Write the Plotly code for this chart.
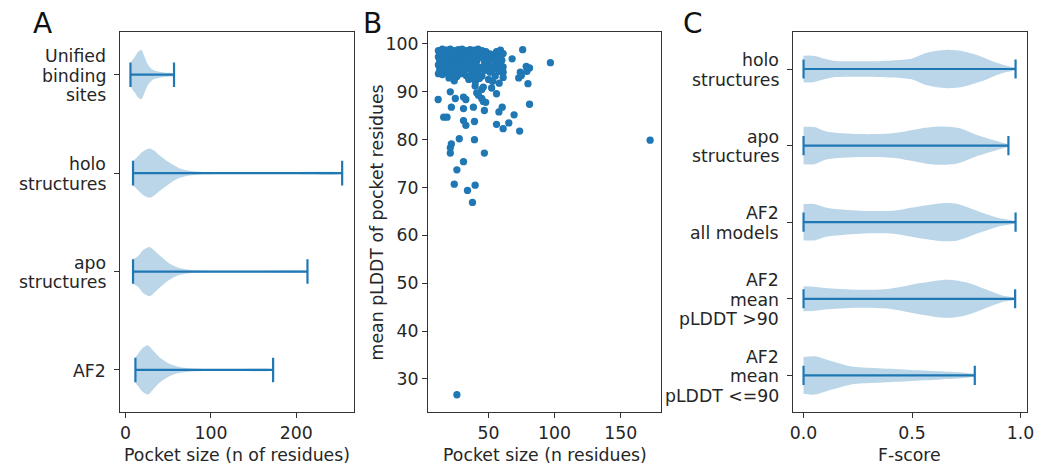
import plotly.graph_objects as go

# ---------------- Panel A: pocket size distributions ----------------
size_labels = [["Unified", "binding", "sites"], ["holo", "structures"],
               ["apo", "structures"], ["AF2"]]
size_min = [5.8, 8.8, 8.8, 11.6]
size_max = [56.8, 253.6, 213.0, 172.8]
# density profiles (x in residues, relative half-width)
unified_x = [5.8, 8.0, 10.8, 14.6, 18.5, 22.4, 26.2, 32.0, 39.8, 47.5, 56.8]
unified_d = [0.45, 0.6, 0.72, 0.92, 1.0, 0.72, 0.42, 0.2, 0.12, 0.08, 0.05]
holo_size_x = [8.8, 12.7, 20.4, 28.2, 34.0, 39.8, 51.4, 63.0, 74.6, 86.0, 110.0, 160.0, 253.6]
holo_size_d = [0.5, 0.62, 0.88, 1.0, 0.9, 0.73, 0.43, 0.2, 0.1, 0.06, 0.04, 0.03, 0.02]
apo_size_x = [8.8, 14.6, 20.4, 28.2, 34.0, 39.8, 51.4, 63.0, 74.6, 90.0, 140.0, 213.0]
apo_size_d = [0.5, 0.62, 0.87, 1.0, 0.85, 0.66, 0.33, 0.14, 0.07, 0.04, 0.03, 0.02]
af2_size_x = [11.6, 14.6, 20.4, 26.2, 32.0, 39.8, 51.4, 63.0, 74.6, 90.0, 120.0, 172.8]
af2_size_d = [0.52, 0.65, 0.9, 1.0, 0.8, 0.52, 0.25, 0.12, 0.07, 0.04, 0.03, 0.02]

# ---------------- Panel B: pocket size vs mean pLDDT ----------------
pocket_size = [
    12, 15, 18, 21, 24, 27, 30, 33, 36, 39, 42, 45, 48, 56, 59,
    13, 16, 19, 22, 25, 28, 31, 34, 37, 40, 43, 46, 51, 54, 58, 61,
    12, 15, 18, 21, 24, 27, 30, 33, 36, 39, 44, 49, 53, 57, 60,
    13, 16, 19, 22, 25, 28, 31, 35, 38, 41, 47, 50, 55, 59,
    12, 15, 18, 21, 24, 27, 30, 33, 36, 40, 44, 48, 52, 56, 61,
    13, 17, 20, 23, 27, 31, 35, 38, 42, 47, 51, 54, 58, 61,
    12, 15, 19, 23, 26, 29, 33, 37, 40, 45, 50, 55, 61,
    20, 24, 35, 40, 53, 58, 43,
    11.8, 21, 24.8, 31, 32.8, 21.8, 31, 38.5, 16, 18.5, 31, 32.8, 39.3, 46.8,
    56, 61, 65.3, 69.3, 73.5, 81, 57.8, 60.3, 56, 52.3, 79.8, 72.8, 74.8, 79,
    78.5, 81, 75.8, 67.8, 96.8, 172.3, 26, 39.8, 41, 42.3, 44.8, 46, 47.8, 44.8,
    46, 27.8, 39.3, 21.8, 21, 21, 46.8, 31, 26, 24, 39.8, 34, 37.8, 74, 60.5,
]
mean_plddt = [
    98.6, 98.9, 98.7, 98.9, 98.6, 98.8, 98.9, 98.6, 98.8, 98.7, 98.9, 98.6, 98.4, 98.4, 98.7,
    98.0, 97.8, 98.1, 97.9, 98.2, 97.9, 98.1, 97.8, 98.0, 98.2, 97.9, 97.6, 97.9, 97.7, 97.6, 98.0,
    97.3, 97.1, 97.4, 97.1, 97.3, 97.0, 97.2, 97.4, 97.1, 97.3, 97.2, 97.0, 96.8, 97.1, 96.6,
    96.5, 96.2, 96.6, 96.3, 96.1, 96.5, 96.3, 96.6, 96.2, 96.4, 96.2, 96.5, 96.0, 95.7,
    95.6, 95.4, 95.7, 95.3, 95.6, 95.2, 95.5, 95.3, 95.7, 95.4, 95.1, 95.5, 95.2, 95.0, 95.2,
    94.6, 94.4, 94.8, 94.3, 94.6, 94.4, 94.8, 94.5, 94.2, 94.5, 94.1, 94.7, 94.3, 94.1,
    93.8, 93.6, 93.9, 93.5, 93.2, 93.8, 93.4, 93.6, 93.0, 93.3, 92.6, 93.3, 93.0,
    92.9, 92.3, 92.6, 92.1, 92.2, 91.8, 92.8,
    88.4, 90.0, 88.6, 88.9, 88.4, 86.8, 86.5, 86.8, 84.7, 84.7, 84.0, 83.0, 83.8, 86.1,
    83.2, 82.3, 83.5, 85.2, 81.8, 87.4, 85.8, 86.8, 89.6, 90.8, 91.7, 92.9, 93.4, 94.3,
    95.3, 95.0, 98.8, 96.9, 96.1, 79.9, 26.7, 91.2, 89.8, 89.3, 88.6, 88.0, 87.8, 90.5,
    91.0, 80.2, 80.0, 79.1, 78.3, 77.2, 77.2, 75.4, 73.7, 70.7, 70.5, 69.4, 66.9, 94.1, 94.6,
]

# ---------------- Panel C: F-score distributions ----------------
fscore_labels = [["holo", "structures"], ["apo", "structures"], ["AF2", "all models"],
                 ["AF2", "mean", "pLDDT &gt;90"], ["AF2", "mean", "pLDDT &lt;=90"]]
fscore_min = [0.0, 0.0, 0.0, 0.0, 0.0]
fscore_max = [0.977, 0.944, 0.977, 0.975, 0.789]
holo_f_x = [0, 0.044, 0.105, 0.15, 0.26, 0.41, 0.5, 0.56, 0.66, 0.74, 0.82, 0.88, 0.94, 0.977]
holo_f_d = [0.69, 0.69, 0.51, 0.42, 0.4, 0.45, 0.55, 0.82, 1.0, 0.91, 0.64, 0.36, 0.15, 0.05]
apo_f_x = [0, 0.05, 0.105, 0.26, 0.41, 0.56, 0.62, 0.71, 0.81, 0.9, 0.944]
apo_f_d = [0.98, 0.97, 0.73, 0.6, 0.64, 0.93, 1.0, 0.93, 0.51, 0.2, 0.05]
af2_all_f_x = [0, 0.05, 0.105, 0.26, 0.41, 0.53, 0.65, 0.71, 0.81, 0.9, 0.977]
af2_all_f_d = [0.95, 0.95, 0.76, 0.6, 0.6, 0.82, 1.0, 0.95, 0.55, 0.22, 0.04]
af2_hi_f_x = [0, 0.05, 0.1, 0.25, 0.4, 0.54, 0.66, 0.75, 0.845, 0.92, 0.975]
af2_hi_f_d = [0.65, 0.63, 0.56, 0.47, 0.53, 0.82, 1.0, 0.86, 0.47, 0.16, 0.04]
af2_lo_f_x = [0, 0.053, 0.13, 0.22, 0.33, 0.48, 0.63, 0.75, 0.789]
af2_lo_f_d = [0.96, 1.0, 0.74, 0.47, 0.39, 0.3, 0.21, 0.12, 0.05]

BLUE = "#1f77b4"
FILL = "rgba(31,119,180,0.3)"
TEXT = "#262626"
FONT = "DejaVu Sans"
FS = 17.3           # text size
LINE_GAP = 19.5     # px between lines of a category label
HALF_WIDTH = 0.25   # violin max half-width in category units
CAP = 0.125         # half-length of the extrema caps

fig = go.Figure()


def add_violin(xs, ds, pos, vmin, vmax, xa, ya):
    upper = [pos + HALF_WIDTH * d for d in ds]
    lower = [pos - HALF_WIDTH * d for d in ds]
    fig.add_trace(go.Scatter(
        x=list(xs) + list(xs)[::-1], y=upper + lower[::-1],
        mode="lines", line=dict(width=0, shape="spline", smoothing=0.8),
        fill="toself", fillcolor=FILL, hoverinfo="skip",
        xaxis=xa, yaxis=ya, showlegend=False))
    fig.add_trace(go.Scatter(
        x=[vmin, vmax, None, vmin, vmin, None, vmax, vmax],
        y=[pos, pos, None, pos - CAP, pos + CAP, None, pos - CAP, pos + CAP],
        mode="lines", line=dict(color=BLUE, width=2.2),
        xaxis=xa, yaxis=ya, showlegend=False, hoverinfo="skip"))


# Panel A violins (top to bottom: Unified, holo, apo, AF2)
size_profiles = [(unified_x, unified_d), (holo_size_x, holo_size_d),
                 (apo_size_x, apo_size_d), (af2_size_x, af2_size_d)]
size_pos = [4, 3, 2, 1]
for (xs, ds), p, lo, hi in zip(size_profiles, size_pos, size_min, size_max):
    add_violin(xs, ds, p, lo, hi, "x", "y")

# Panel B scatter
fig.add_trace(go.Scatter(
    x=pocket_size, y=mean_plddt, mode="markers",
    marker=dict(color=BLUE, size=7.3, line=dict(width=0)),
    xaxis="x2", yaxis="y2", showlegend=False))

# Panel C violins
f_profiles = [(holo_f_x, holo_f_d), (apo_f_x, apo_f_d), (af2_all_f_x, af2_all_f_d),
              (af2_hi_f_x, af2_hi_f_d), (af2_lo_f_x, af2_lo_f_d)]
f_pos = [5, 4, 3, 2, 1]
for (xs, ds), p, lo, hi in zip(f_profiles, f_pos, fscore_min, fscore_max):
    add_violin(xs, ds, p, lo, hi, "x3", "y3")

W, H = 1043, 468


def dom_x(a, b):
    return [a / W, b / W]


ydom = [1 - 412 / H, 1 - 32 / H]
axis_common = dict(showline=True, linecolor="#333333", linewidth=1.2, mirror=True,
                   ticks="outside", ticklen=5, tickwidth=1.1, tickcolor="#333333",
                   showgrid=False, zeroline=False,
                   tickfont=dict(family=FONT, size=FS, color=TEXT))

fig.update_layout(
    width=W, height=H, margin=dict(l=0, r=0, t=0, b=0),
    paper_bgcolor="white", plot_bgcolor="white",
    font=dict(family=FONT, size=FS, color=TEXT),
    xaxis=dict(domain=dom_x(118, 354), range=[-6.6, 267], tickvals=[0, 100, 200],
               anchor="y", **axis_common),
    yaxis=dict(domain=ydom, range=[0.573, 4.434], tickvals=size_pos,
               showticklabels=False, anchor="x", **axis_common),
    xaxis2=dict(domain=dom_x(429.3, 664.3), range=[4.25, 180.5], tickvals=[50, 100, 150],
                anchor="y2", **axis_common),
    yaxis2=dict(domain=ydom, range=[23.1, 102.5], tickvals=[30, 40, 50, 60, 70, 80, 90, 100],
                anchor="x2", **axis_common),
    xaxis3=dict(domain=dom_x(798, 1034), range=[-0.047, 1.03], tickvals=[0, 0.5, 1.0],
                ticktext=["0.0", "0.5", "1.0"], anchor="y3", **axis_common),
    yaxis3=dict(domain=ydom, range=[0.522, 5.483], tickvals=f_pos,
                showticklabels=False, anchor="x3", **axis_common),
)


def cat_label(lines, pos, yref, right_px):
    # right-aligned, multi-line category label next to a y tick
    n = len(lines)
    for i, line in enumerate(lines):
        fig.add_annotation(text=line, x=right_px / W, xref="paper", y=pos, yref=yref,
                           yshift=-((i - (n - 1) / 2) * LINE_GAP) - 1,
                           showarrow=False, xanchor="right", yanchor="middle",
                           font=dict(family=FONT, size=FS, color=TEXT))


for lines, p in zip(size_labels, size_pos):
    cat_label(lines, p, "y", 106)
for lines, p in zip(fscore_labels, f_pos):
    cat_label(lines, p, "y3", 786)


def ann(text, x, y, size=FS, angle=0):
    fig.add_annotation(text=text, x=x / W, y=1 - y / H, xref="paper", yref="paper",
                       showarrow=False, textangle=angle, xanchor="center", yanchor="middle",
                       font=dict(family=FONT, size=size, color=TEXT))


# axis titles
ann("Pocket size (n of residues)", 236, 455)
ann("Pocket size (n residues)", 547, 455)
ann("F-score", 915, 455)
ann("mean pLDDT of pocket residues", 378, 222, angle=-90)

# panel letters
for letter, cx in (("A", 40), ("B", 373), ("C", 697)):
    fig.add_annotation(text=letter, x=cx / W, y=1 - 23 / H, xref="paper", yref="paper",
                       showarrow=False, xanchor="center", yanchor="middle",
                       font=dict(family=FONT, size=28, color="#111111"))

fig.write_html("out.html")
